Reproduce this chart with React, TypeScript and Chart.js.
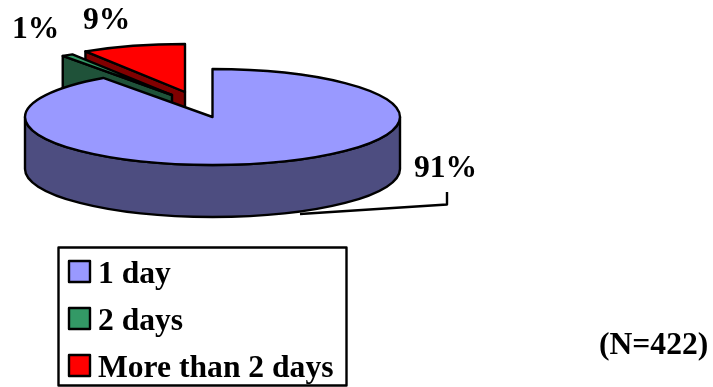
import React, { useEffect, useRef } from "react";
import { Chart, registerables } from "chart.js";

Chart.register(...registerables);

// Length of the stay, share of respondents in percent
const categories = ["1 day", "2 days", "More than 2 days"];
const shares = [91, 1, 9];
const sampleNote = "(N=422)";

const topColors = ["#9999ff", "#339966", "#ff0000"];
const sideColors = ["#4d4d80", "#1f5239", "#800000"];

// Screen offset of each slice from the pie centre (exploded slices)
const sliceOffsets = [
  [0, 0],
  [-40.5, -22],
  [-27.5, -25],
];
// Anchor of each percentage label
const labelAnchors = [
  [414, 177],
  [12, 38],
  [83, 29],
];

const FONT = "bold 31.6px 'Liberation Serif'";
const planeY = 117; // vertical centre of the tilted pie on the page
const tilt = 0.256; // ellipse height / width
const depth = 52; // thickness of the pie

// Draws the arcs computed by the doughnut controller as an extruded, tilted pie
const pie3d = {
  id: "pie3d",
  beforeDatasetsDraw(chart: any) {
    const ctx: CanvasRenderingContext2D = chart.ctx;
    const arcs = chart.getDatasetMeta(0).data;
    ctx.save();
    ctx.lineWidth = 2.4;
    ctx.lineJoin = "round";
    ctx.strokeStyle = "#000";

    // Leader line of the large slice, partly hidden behind the pie
    ctx.beginPath();
    ctx.moveTo(447, 192);
    ctx.lineTo(447, 204.5);
    ctx.lineTo(300, 214);
    ctx.stroke();

    for (let i = arcs.length - 1; i >= 0; i--) {
      const arc = arcs[i];
      const { startAngle: start, endAngle: end, outerRadius: r } = arc;
      const cx = arc.x + sliceOffsets[i][0];
      const cy = planeY + sliceOffsets[i][1];
      const px = (a: number) => cx + Math.cos(a) * r;
      const py = (a: number) => cy + Math.sin(a) * r * tilt;

      ctx.fillStyle = sideColors[i];

      // Radial face at the leading edge of the slice
      if (Math.cos(start) < -1e-6) {
        ctx.beginPath();
        ctx.moveTo(cx, cy);
        ctx.lineTo(px(start), py(start));
        ctx.lineTo(px(start), py(start) + depth);
        ctx.lineTo(cx, cy + depth);
        ctx.closePath();
        ctx.fill();
        ctx.stroke();
      }

      // Rim along the front half of the ellipse
      const a = Math.max(start, 0);
      const b = Math.min(end, Math.PI);
      if (a < b) {
        ctx.beginPath();
        ctx.save();
        ctx.translate(cx, cy);
        ctx.scale(1, tilt);
        ctx.arc(0, 0, r, a, b);
        ctx.restore();
        ctx.save();
        ctx.translate(cx, cy + depth);
        ctx.scale(1, tilt);
        ctx.arc(0, 0, r, b, a, true);
        ctx.restore();
        ctx.closePath();
        ctx.fill();
        ctx.stroke();
      }

      // Top face
      ctx.fillStyle = topColors[i];
      ctx.beginPath();
      ctx.save();
      ctx.translate(cx, cy);
      ctx.scale(1, tilt);
      ctx.moveTo(0, 0);
      ctx.arc(0, 0, r, start, end);
      ctx.closePath();
      ctx.restore();
      ctx.fill();
      ctx.stroke();
    }

    // Percentage labels
    ctx.fillStyle = "#000";
    ctx.font = FONT;
    ctx.textBaseline = "alphabetic";
    ctx.textAlign = "left";
    shares.forEach((v, i) => {
      ctx.fillText(`${v}%`, labelAnchors[i][0], labelAnchors[i][1]);
    });

    // Legend
    ctx.strokeRect(58.5, 247.5, 288, 138);
    const rowY = [283, 330, 377];
    categories.forEach((name, i) => {
      ctx.fillStyle = topColors[i];
      ctx.fillRect(69, rowY[i] - 22, 21, 21);
      ctx.strokeRect(69, rowY[i] - 22, 21, 21);
      ctx.fillStyle = "#000";
      ctx.fillText(name, 98, rowY[i]);
    });

    ctx.fillText(sampleNote, 599, 354);
    ctx.restore();
    return false;
  },
};

export default function App() {
  const ref = useRef<HTMLCanvasElement>(null);
  useEffect(() => {
    document.body.style.margin = "0";
    const chart = new Chart(ref.current!, {
      type: "pie",
      data: {
        labels: categories,
        datasets: [{ data: shares, backgroundColor: topColors, borderWidth: 0 }],
      },
      options: {
        responsive: false,
        animation: false,
        events: [],
        layout: { padding: { left: 25, right: 313, top: 0, bottom: 0 } },
        plugins: { legend: { display: false }, tooltip: { enabled: false } },
      },
      plugins: [pie3d],
    } as any);
    return () => chart.destroy();
  }, []);
  return (
    <canvas
      ref={ref}
      width={713}
      height={387}
      style={{ display: "block", background: "#fff" }}
    />
  );
}
